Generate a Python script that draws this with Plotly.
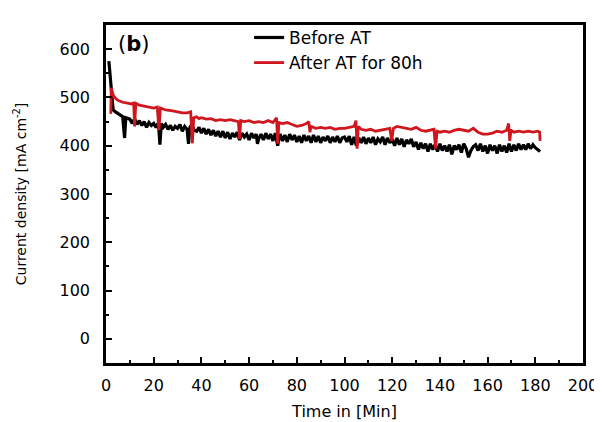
import plotly.graph_objects as go

# ---- data ----
before_t = [1.2, 1.8, 2.4, 3, 4, 5, 6, 7, 7.8, 8.3,
            10, 11, 12, 13, 14, 15, 16, 17, 18, 19,
            20, 21, 22, 22.6, 23.2, 24, 25, 26, 27, 28,
            29, 30, 31, 32, 33, 34, 34.6, 35.2, 36, 37,
            38, 39, 40, 41, 42, 43, 44, 45, 46, 47,
            48, 49, 50, 51, 52, 53, 54, 55, 56, 57,
            58, 59, 60, 61, 62, 63, 63.5, 64, 65, 66,
            67, 68, 69, 70, 71, 72, 72.5, 73, 74, 75,
            76, 77, 78, 79, 80, 81, 82, 83, 84, 85,
            86, 87, 88, 89, 90, 91, 92, 93, 94, 95,
            96, 97, 98, 99, 100, 101, 102, 103, 104, 105,
            106, 107, 108, 109, 110, 111, 112, 113, 114, 115,
            116, 117, 118, 119, 120, 121, 122, 123, 124, 125,
            126, 127, 128, 129, 130, 131, 132, 133, 134, 135,
            136, 137, 138, 139, 140, 141, 142, 143, 144, 145,
            146, 147, 148, 149, 150, 151, 152, 153, 154, 155,
            156, 157, 158, 159, 160, 161, 162, 163, 164, 165,
            166, 167, 168, 169, 170, 171, 172, 173, 174, 175,
            176, 177, 178, 179, 180, 181, 182]
before_v = [575, 540, 490, 474, 470, 466, 462, 460, 416, 458,
            455, 446, 456, 444, 452, 442, 450, 438, 448, 442,
            446, 438, 448, 402, 446, 438, 444, 434, 442, 432,
            440, 436, 444, 430, 440, 434, 404, 438, 444, 432,
            430, 438, 426, 436, 424, 434, 422, 432, 420, 430,
            418, 430, 416, 428, 414, 426, 418, 428, 412, 426,
            418, 424, 412, 426, 416, 424, 404, 414, 424, 412,
            426, 414, 424, 410, 426, 400, 416, 424, 410, 422,
            408, 424, 412, 422, 408, 420, 406, 422, 410, 420,
            406, 422, 408, 420, 406, 418, 410, 420, 406, 418,
            408, 420, 406, 416, 418, 408, 420, 402, 418, 400,
            416, 406, 418, 404, 416, 406, 418, 402, 414, 408,
            418, 402, 416, 406, 414, 400, 416, 402, 414, 398,
            412, 404, 414, 398, 408, 392, 406, 394, 404, 388,
            404, 392, 402, 388, 404, 390, 400, 388, 402, 382,
            400, 392, 402, 386, 404, 394, 376, 390, 398, 402,
            390, 404, 388, 400, 384, 402, 390, 400, 384, 402,
            388, 400, 386, 404, 388, 402, 390, 404, 392, 402,
            392, 404, 394, 402, 396, 392, 388]

after_t = [2.0, 2.2, 3, 4, 5, 7, 9, 11, 11.6, 12,
           12.5, 14, 16, 18, 20, 21.5, 22.2, 22.8, 25, 28,
           30, 32, 34, 35.5, 36.2, 36.8, 38, 39, 40, 42,
           44, 46, 48, 50, 52, 54, 55.5, 56, 56.5, 58,
           60, 62, 64, 66, 68, 70, 71.5, 72, 72.5, 74,
           76, 78, 80, 82, 84, 85, 85.5, 86, 88, 90,
           92, 94, 96, 98, 100, 102, 104, 104.8, 105.3, 105.8,
           107, 109, 111, 113, 115, 117, 119, 119.8, 120.5, 122,
           124, 126, 128, 130, 132, 134, 136, 137.5, 138.2, 138.8,
           140, 142, 144, 146, 148, 150, 152, 154, 156, 158,
           160, 162, 164, 166, 168, 168.8, 169.3, 169.8, 171, 173,
           175, 177, 179, 181, 181.8, 182]
after_v = [466, 520, 505, 498, 494, 490, 488, 486, 490, 440,
           488, 484, 482, 480, 478, 480, 432, 478, 474, 472,
           470, 468, 468, 470, 405, 458, 460, 456, 458, 455,
           456, 452, 454, 452, 454, 452, 450, 414, 452, 450,
           452, 448, 450, 448, 452, 448, 458, 404, 448, 446,
           448, 444, 440, 442, 446, 450, 428, 440, 436, 438,
           436, 438, 434, 436, 436, 438, 440, 452, 394, 440,
           434, 432, 434, 430, 432, 434, 436, 410, 436, 440,
           438, 436, 434, 438, 432, 430, 432, 434, 394, 430,
           428, 430, 428, 432, 434, 432, 430, 436, 428, 424,
           424, 426, 430, 428, 432, 446, 410, 432, 428, 430,
           428, 430, 428, 430, 428, 410]

series_names = ["Before AT", "After AT for 80h"]
x_tick_vals = list(range(0, 201, 20))
y_tick_vals = list(range(0, 601, 100))

FONT = "DejaVu Sans, Arial, sans-serif"

fig = go.Figure()
fig.add_trace(go.Scatter(x=before_t, y=before_v, mode="lines", name=series_names[0],
                         line=dict(color="#000000", width=3.2)))
fig.add_trace(go.Scatter(x=after_t, y=after_v, mode="lines", name=series_names[1],
                         line=dict(color="#d0161e", width=2.8)))

axis_common = dict(showline=True, linecolor="black", linewidth=2.5, mirror=True, ticks="inside",
                   tickcolor="black", tickwidth=2, ticklen=6, showgrid=False, zeroline=False,
                   tickfont=dict(family=FONT, size=16, color="black"))

fig.update_xaxes(range=[0, 200], tickvals=x_tick_vals, ticklabelstandoff=6,
                 minor=dict(ticks="inside", ticklen=3, tickwidth=2, dtick=10, tickcolor="black"),
                 title=dict(text="Time in [Min]", font=dict(family=FONT, size=16, color="black"), standoff=12),
                 **axis_common)
fig.update_yaxes(range=[-50, 650], tickvals=y_tick_vals, ticklabelstandoff=10,
                 minor=dict(ticks="inside", ticklen=3, tickwidth=2, dtick=50, tickcolor="black"),
                 title=dict(text="Current density [mA cm<sup>-2</sup>]",
                            font=dict(family=FONT, size=14, color="black"), standoff=30),
                 **axis_common)

fig.add_annotation(text="(<b>b</b>)", xref="paper", yref="paper", x=0.02, y=0.945,
                   xanchor="left", yanchor="middle", showarrow=False,
                   font=dict(family=FONT, size=21, color="black"))

fig.update_layout(
    width=602, height=422,
    margin=dict(l=98, r=17, t=15, b=57),
    paper_bgcolor="white", plot_bgcolor="white",
    showlegend=True,
    legend=dict(x=0.3, y=1.015, xanchor="left", yanchor="top", bgcolor="rgba(0,0,0,0)",
                font=dict(family=FONT, size=17, color="black"), tracegroupgap=0,
                itemwidth=30),
)

fig.write_html("out.html")
